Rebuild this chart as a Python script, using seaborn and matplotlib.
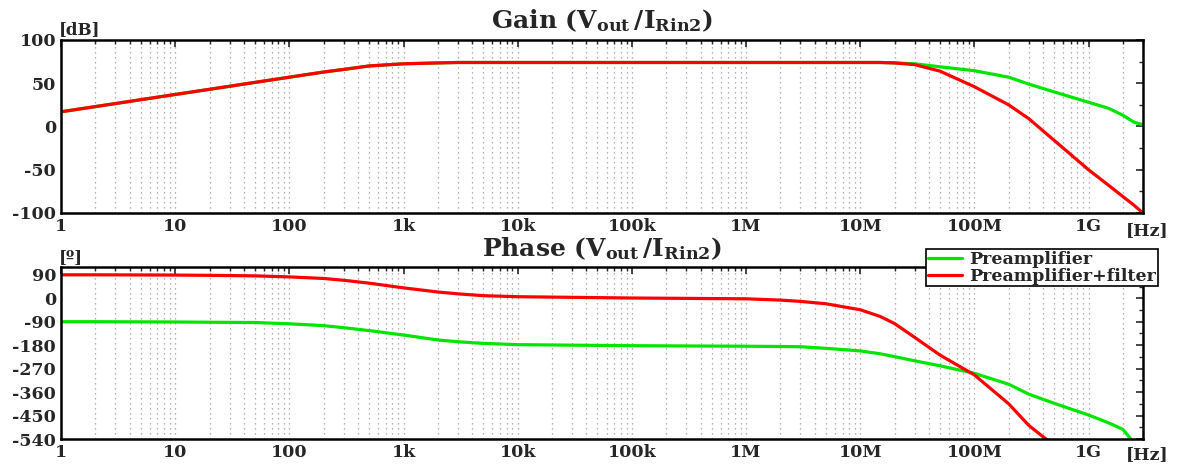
import numpy as np
import pandas as pd
import matplotlib
matplotlib.use("Agg")
import matplotlib.pyplot as plt
import matplotlib.ticker as mticker
import seaborn as sns

# ---------------- data ----------------
freq = [1, 2, 5, 10, 20, 50, 100, 200, 300, 500,
        1e3, 2e3, 3e3, 5e3, 1e4, 1e5, 1e6, 2e6, 3e6, 5e6,
        1e7, 1.5e7, 2e7, 3e7, 5e7, 1e8, 2e8, 3e8, 5e8,
        1e9, 1.5e9, 2e9, 2.5e9, 3e9]

gain_pre = [17, 23, 31, 37, 43, 51, 57, 63, 66, 70,
            72.5, 73.5, 74, 74, 74, 74, 74, 74, 74, 74,
            74, 74, 73.5, 72.5, 69, 64.5, 57, 49, 40,
            28, 21, 13, 5, 2]
gain_filt = [17, 23, 31, 37, 43, 51, 57, 63, 66, 70,
             72.5, 73.5, 74, 74, 74, 74, 74, 74, 74, 74,
             74, 74, 73.5, 71.5, 64, 46, 25, 9, -16,
             -50, -68, -81, -91, -100]

phase_pre = [-90, -90, -90.5, -91, -92, -93, -98, -105, -113, -124,
             -141, -160, -167, -173, -178, -182, -184, -185, -186, -192,
             -202, -213, -224, -240, -259, -288, -330, -368, -403,
             -448, -478, -503, -555, np.nan]
phase_filt = [90, 90, 89.5, 89, 88, 86, 82, 76, 69, 58,
              40, 24, 17, 10, 6, 1, -2, -7, -12, -21,
              -44, -70, -97, -150, -218, -294, -405, -488, -565,
              np.nan, np.nan, np.nan, np.nan, np.nan]

series_names = ["Preamplifier", "Preamplifier+filter"]
x_ticks = [1, 10, 100, 1e3, 1e4, 1e5, 1e6, 1e7, 1e8, 1e9]
x_ticklabels = ["1", "10", "100", "1k", "10k", "100k", "1M", "10M", "100M", "1G"]
gain_ticks = [-100, -50, 0, 50, 100]
phase_ticks = [90, 0, -90, -180, -270, -360, -450, -540]

df_gain = pd.DataFrame({
    "f": freq * 2,
    "v": gain_pre + gain_filt,
    "s": [series_names[0]] * len(freq) + [series_names[1]] * len(freq),
})
df_phase = pd.DataFrame({
    "f": freq * 2,
    "v": phase_pre + phase_filt,
    "s": [series_names[0]] * len(freq) + [series_names[1]] * len(freq),
})

# ---------------- style ----------------
sns.set_style("white")
plt.rcParams["font.family"] = ["DejaVu Serif"]
plt.rcParams["font.weight"] = "bold"
plt.rcParams["mathtext.fontset"] = "dejavuserif"
plt.rcParams["axes.unicode_minus"] = False

palette = {series_names[0]: "#00e600", series_names[1]: "#ff0000"}

fig = plt.figure(figsize=(11.78, 4.65), dpi=100)
W, H = 1178, 465
ax1 = fig.add_axes([61 / W, 1 - 213 / H, (1143 - 61) / W, (213 - 40) / H])
ax2 = fig.add_axes([61 / W, 1 - 439 / H, (1143 - 61) / W, (439 - 267) / H])

for ax, df in ((ax1, df_gain), (ax2, df_phase)):
    sns.lineplot(data=df, x="f", y="v", hue="s", palette=palette, ax=ax,
                 errorbar=None, linewidth=2.3, legend=(ax is ax2), sort=True)
    ax.set_xscale("log")
    ax.set_xlim(1, 3e9)
    ax.set_xticks(x_ticks)
    ax.set_xticklabels(x_ticklabels)
    ax.xaxis.set_minor_locator(mticker.LogLocator(base=10, subs=np.arange(2, 10), numticks=100))
    ax.xaxis.set_minor_formatter(mticker.NullFormatter())
    ax.set_xlabel("")
    ax.set_ylabel("")
    ax.grid(True, which="both", axis="x", color="#9a9a9a",
            linestyle=(0, (1, 3)), linewidth=0.9)
    ax.tick_params(axis="both", which="both", direction="in", top=True, right=True)
    ax.tick_params(axis="both", which="major", length=5, width=1.2, labelsize=12.5)
    ax.tick_params(axis="both", which="minor", length=3, width=1.0)
    for sp in ax.spines.values():
        sp.set_linewidth(1.8)
        sp.set_color("black")

ax1.set_ylim(-100, 100)
ax1.set_yticks(gain_ticks)
ax1.yaxis.set_minor_locator(mticker.MultipleLocator(25))
ax2.set_ylim(-540, 120)
ax2.set_yticks(phase_ticks)
ax2.yaxis.set_minor_locator(mticker.MultipleLocator(45))
for ax in (ax1, ax2):
    for lab in ax.get_xticklabels() + ax.get_yticklabels():
        lab.set_fontweight("bold")

# titles
fig.text(602 / W, 1 - 21 / H, r"Gain ($\mathbf{V_{out}}\,/\mathbf{I_{Rin2}}$)",
         ha="center", va="center", fontsize=18, fontweight="bold")
fig.text(602 / W, 1 - 249 / H, r"Phase ($\mathbf{V_{out}}\,/\mathbf{I_{Rin2}}$)",
         ha="center", va="center", fontsize=18, fontweight="bold")

# unit labels
fig.text(59 / W, 1 - 30 / H, "[dB]", ha="left", va="center", fontsize=12, fontweight="bold")
fig.text(59 / W, 1 - 258 / H, "[º]", ha="left", va="center", fontsize=12, fontweight="bold")
fig.text(1168 / W, 1 - 231 / H, "[Hz]", ha="right", va="center", fontsize=12.5, fontweight="bold")
fig.text(1168 / W, 1 - 455 / H, "[Hz]", ha="right", va="center", fontsize=12.5, fontweight="bold")

# legend
handles, labels = ax2.get_legend_handles_labels()
leg = ax2.legend(handles, labels, loc="upper right",
                 bbox_to_anchor=(1158 / W, 1 - 249 / H), bbox_transform=fig.transFigure,
                 frameon=True, fancybox=False, edgecolor="black", framealpha=1,
                 borderpad=0.1, labelspacing=0.0, handlelength=2.0, handletextpad=0.4,
                 borderaxespad=0.0,
                 prop={"weight": "bold", "size": 12.5, "family": "DejaVu Serif"})
leg.get_frame().set_linewidth(1.2)
for line in leg.get_lines():
    line.set_linewidth(2.3)

fig.savefig("out.png", dpi=100)
